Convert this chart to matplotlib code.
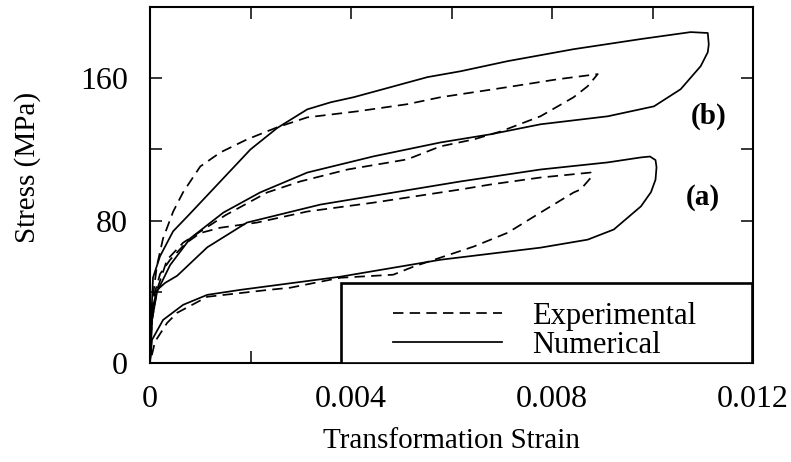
import matplotlib
matplotlib.use('Agg')
import matplotlib.pyplot as plt
from matplotlib.patches import Rectangle

plt.rcParams['font.family'] = ['Liberation Serif', 'DejaVu Serif']

# numerical loop (b): loading branch then unloading branch
num_b_x = [0, 0.00002, 0.00004, 0.00006, 0.0002, 0.00046, 0.0008, 0.0012, 0.0016, 0.002,
           0.00253, 0.00313, 0.0036, 0.00405, 0.00478, 0.00552, 0.00618, 0.00712, 0.00843,
           0.00977, 0.01076, 0.0111, 0.01112, 0.0111, 0.01096, 0.01056, 0.01003, 0.00911,
           0.00777, 0.00678, 0.00578, 0.00445, 0.00313, 0.00219, 0.00146, 0.0008, 0.0004,
           0.00014, 0.00004, 0]
num_b_y = [0, 20, 35, 48, 60, 74, 84, 96, 108, 120,
           132, 142.5, 146.5, 149.3, 154.9, 160.6, 163.9, 169.6, 176.3,
           182, 185.9, 185.4, 179, 174.6, 166.8, 153.8, 144.2, 138.6,
           134.1, 128.5, 123.9, 116.1, 107, 95.8, 84.5, 70, 55,
           40, 24, 0]

# numerical loop (a)
num_a_x = [0, 0.00002, 0.00006, 0.00014, 0.0003, 0.00054, 0.00114, 0.00193, 0.00339, 0.00618,
           0.00777, 0.00911, 0.00977, 0.00995, 0.01006, 0.01008, 0.01006, 0.00997, 0.00977,
           0.00923, 0.00871, 0.00777, 0.00578, 0.00379, 0.0018, 0.00114, 0.00066, 0.00026,
           0.00004, 0]
num_a_y = [0, 18, 32, 41, 45, 49, 65, 78.9, 89, 102,
           108.7, 112.7, 115.5, 116, 114, 110, 103, 96, 88,
           75, 69.3, 64.8, 58, 48.5, 41.1, 38.3, 32.7, 24.2,
           13, 0]

# experimental loop (b)
exp_b_x = [0, 0.00002, 0.00006, 0.00014, 0.00026, 0.00046, 0.00066, 0.001, 0.0014, 0.00193,
           0.00253, 0.00313, 0.00413, 0.00512, 0.00578, 0.00712, 0.00811, 0.00891, 0.00871,
           0.00843, 0.00777, 0.00698, 0.00644, 0.00578, 0.00512, 0.00393, 0.00299, 0.00233,
           0.0015, 0.00066, 0.00034, 0.00014, 0.00004, 0]
exp_b_y = [0, 20, 38, 55, 70, 85, 96, 110.4, 118.3, 125.6,
           132.4, 138, 141.4, 145.4, 149.3, 155, 159.4, 162.3, 155.5,
           149.3, 138.6, 130.1, 125.6, 121.7, 114.4, 108.7, 102, 95.8,
           83, 67.6, 58, 41.1, 24, 0]

# experimental loop (a)
exp_a_x = [0, 0.00003, 0.0001, 0.0002, 0.0004, 0.0007, 0.001, 0.0014, 0.00213, 0.00313,
           0.00445, 0.00618, 0.00678, 0.00777, 0.00877, 0.0088, 0.00857, 0.00843, 0.00777,
           0.00712, 0.00644, 0.00578, 0.00524, 0.00484, 0.00379, 0.00279, 0.00233, 0.00114,
           0.00054, 0.00034, 0.0001, 0]
exp_a_y = [0, 22, 40, 50, 58, 67, 73, 76, 78.9, 85.1,
           90.1, 97.5, 100.3, 104.2, 107, 105, 97.5, 95.8, 84.5,
           73.2, 65.4, 59.2, 54.1, 49.6, 47.9, 42.3, 41, 37.2,
           28.2, 22.5, 12, 0]

x_major = [0, 0.004, 0.008, 0.012]
x_labels = ['0', '0.004', '0.008', '0.012']
x_minor = [0.002, 0.006, 0.010]
y_major = [0, 80, 160]
y_labels = ['0', '80', '160']
y_minor = [40, 120]

fig = plt.figure(figsize=(7.91, 4.62), dpi=100)
ax = fig.add_axes([150 / 791, 1 - 363 / 462, 603 / 791, 356 / 462])

dash = (0, (6, 3.6))
l_exp, = ax.plot(exp_b_x, exp_b_y, color='black', lw=1.25, linestyle=dash)
ax.plot(exp_a_x, exp_a_y, color='black', lw=1.25, linestyle=dash)
l_num, = ax.plot(num_b_x, num_b_y, color='black', lw=1.25)
ax.plot(num_a_x, num_a_y, color='black', lw=1.25)

ax.set_xlim(0, 0.012)
ax.set_ylim(0, 200)
ax.set_xticks(x_major)
ax.set_xticklabels(x_labels)
ax.set_xticks(x_minor, minor=True)
ax.set_yticks(y_major)
ax.set_yticklabels(y_labels)
ax.set_yticks(y_minor, minor=True)
ax.tick_params(which='both', direction='in', length=8.5, width=1.1,
               top=True, right=True, labelsize=23)
ax.tick_params(axis='x', which='major', pad=16)
ax.tick_params(axis='y', which='major', pad=16)
for s in ax.spines.values():
    s.set_linewidth(1.5)

ax.set_xlabel('Transformation Strain', fontsize=21)
ax.xaxis.set_label_coords(0.5, -0.183)
ax.set_ylabel('Stress (MPa)', fontsize=21)
ax.yaxis.set_label_coords(-0.18, 0.55)

ax.text(0.01112, 138.6, '(b)', fontsize=21, fontweight='bold', ha='center', va='center')
ax.text(0.0110, 93, '(a)', fontsize=21, fontweight='bold', ha='center', va='center')

# legend box sits in the lower right corner of the axes
box = Rectangle((0.317, 0.0), 0.681, 0.225, transform=ax.transAxes,
                facecolor='white', edgecolor='black', lw=1.9, zorder=4)
ax.add_patch(box)
leg = ax.legend([l_exp, l_num], ['Experimental', 'Numerical'], loc='upper left',
                bbox_to_anchor=(0.403, 0.172), frameon=False, fontsize=22,
                handlelength=3.56, handletextpad=1.0, labelspacing=0.0,
                borderpad=0, borderaxespad=0)
leg.set_zorder(5)

fig.savefig('out.png', dpi=100)
